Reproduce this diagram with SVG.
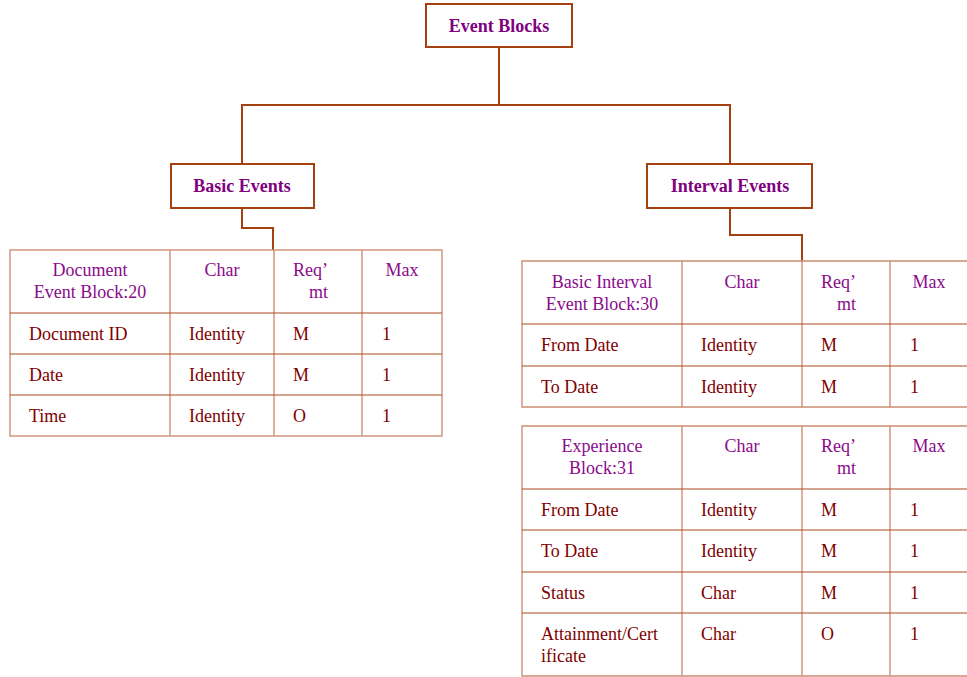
<svg xmlns="http://www.w3.org/2000/svg" width="967" height="677" viewBox="0 0 967 677">
  <style>
    .box { fill: #ffffff; stroke: #a5410f; stroke-width: 2; }
    .title { font-family: "Liberation Serif", "Times New Roman", serif; font-size: 18px; font-weight: bold; fill: #800080; text-anchor: middle; }
    .wire { fill: none; stroke: #a5410f; stroke-width: 2; }
    .outer { fill: none; stroke: #cc8f74; stroke-width: 1.4; }
    .vline { stroke: #cc8f74; stroke-width: 1.4; }
    .hline { stroke: #aa4a1e; stroke-width: 1.2; }
    .hd { font-family: "Liberation Serif", "Times New Roman", serif; font-size: 18px; fill: #8b0a8b; }
    .hd.c { text-anchor: middle; }
    .td { font-family: "Liberation Serif", "Times New Roman", serif; font-size: 18px; fill: #800000; }
  </style>

  <!-- connectors -->
  <g id="connectors">
    <path class="wire" d="M499,47 V105 H242 V164"/>
    <path class="wire" d="M499,105 H730 V164"/>
    <path class="wire" d="M242,208 V228 H273 V250"/>
    <path class="wire" d="M730,208 V235 H802 V261"/>
  </g>

  <!-- root -->
  <g id="event-blocks">
    <rect class="box" x="426" y="4" width="146" height="43"/>
    <text class="title" x="499" y="32">Event Blocks</text>
  </g>

  <g id="basic-events">
    <rect class="box" x="171" y="164" width="143" height="44"/>
    <text class="title" x="242" y="192">Basic Events</text>
  </g>

  <g id="interval-events">
    <rect class="box" x="647" y="164" width="165" height="44"/>
    <text class="title" x="730" y="192">Interval Events</text>
  </g>

  <!-- Document Event Block table -->
  <g id="document-event-block">
    <rect class="outer" x="10" y="250" width="432" height="186"/>
    <line class="vline" x1="170" y1="250" x2="170" y2="436"/>
    <line class="vline" x1="274" y1="250" x2="274" y2="436"/>
    <line class="vline" x1="362" y1="250" x2="362" y2="436"/>
    <line class="hline" x1="10" y1="313" x2="442" y2="313"/>
    <line class="hline" x1="10" y1="354" x2="442" y2="354"/>
    <line class="hline" x1="10" y1="395" x2="442" y2="395"/>
    <text class="hd c" x="90" y="276">Document</text>
    <text class="hd c" x="90" y="298">Event Block:20</text>
    <text class="hd c" x="222" y="276">Char</text>
    <text class="hd" x="293" y="276">Req’</text>
    <text class="hd" x="309" y="298">mt</text>
    <text class="hd c" x="402" y="276">Max</text>
    <text class="td" x="29" y="340">Document ID</text>
    <text class="td" x="189" y="340">Identity</text>
    <text class="td" x="293" y="340">M</text>
    <text class="td" x="382" y="340">1</text>
    <text class="td" x="29" y="381">Date</text>
    <text class="td" x="189" y="381">Identity</text>
    <text class="td" x="293" y="381">M</text>
    <text class="td" x="382" y="381">1</text>
    <text class="td" x="29" y="422">Time</text>
    <text class="td" x="189" y="422">Identity</text>
    <text class="td" x="293" y="422">O</text>
    <text class="td" x="382" y="422">1</text>
  </g>

  <!-- Basic Interval Event Block table -->
  <g id="basic-interval-event-block">
    <path class="outer" d="M970,261 H522 V407 H970"/>
    <line class="vline" x1="682" y1="261" x2="682" y2="407"/>
    <line class="vline" x1="802" y1="261" x2="802" y2="407"/>
    <line class="vline" x1="890" y1="261" x2="890" y2="407"/>
    <line class="hline" x1="522" y1="324" x2="970" y2="324"/>
    <line class="hline" x1="522" y1="366" x2="970" y2="366"/>
    <text class="hd c" x="602" y="288">Basic Interval</text>
    <text class="hd c" x="602" y="310">Event Block:30</text>
    <text class="hd c" x="742" y="288">Char</text>
    <text class="hd" x="821" y="288">Req’</text>
    <text class="hd" x="837" y="310">mt</text>
    <text class="hd c" x="929" y="288">Max</text>
    <text class="td" x="541" y="351">From Date</text>
    <text class="td" x="701" y="351">Identity</text>
    <text class="td" x="821" y="351">M</text>
    <text class="td" x="910" y="351">1</text>
    <text class="td" x="541" y="393">To Date</text>
    <text class="td" x="701" y="393">Identity</text>
    <text class="td" x="821" y="393">M</text>
    <text class="td" x="910" y="393">1</text>
  </g>

  <!-- Experience Block table -->
  <g id="experience-block">
    <path class="outer" d="M970,426 H522 V676 H970"/>
    <line class="vline" x1="682" y1="426" x2="682" y2="676"/>
    <line class="vline" x1="802" y1="426" x2="802" y2="676"/>
    <line class="vline" x1="890" y1="426" x2="890" y2="676"/>
    <line class="hline" x1="522" y1="489" x2="970" y2="489"/>
    <line class="hline" x1="522" y1="530" x2="970" y2="530"/>
    <line class="hline" x1="522" y1="572" x2="970" y2="572"/>
    <line class="hline" x1="522" y1="613" x2="970" y2="613"/>
    <text class="hd c" x="602" y="452">Experience</text>
    <text class="hd c" x="602" y="474">Block:31</text>
    <text class="hd c" x="742" y="452">Char</text>
    <text class="hd" x="821" y="452">Req’</text>
    <text class="hd" x="837" y="474">mt</text>
    <text class="hd c" x="929" y="452">Max</text>
    <text class="td" x="541" y="516">From Date</text>
    <text class="td" x="701" y="516">Identity</text>
    <text class="td" x="821" y="516">M</text>
    <text class="td" x="910" y="516">1</text>
    <text class="td" x="541" y="557">To Date</text>
    <text class="td" x="701" y="557">Identity</text>
    <text class="td" x="821" y="557">M</text>
    <text class="td" x="910" y="557">1</text>
    <text class="td" x="541" y="599">Status</text>
    <text class="td" x="701" y="599">Char</text>
    <text class="td" x="821" y="599">M</text>
    <text class="td" x="910" y="599">1</text>
    <text class="td" x="541" y="640">Attainment/Cert</text>
    <text class="td" x="541" y="662">ificate</text>
    <text class="td" x="701" y="640">Char</text>
    <text class="td" x="821" y="640">O</text>
    <text class="td" x="910" y="640">1</text>
  </g>
</svg>
